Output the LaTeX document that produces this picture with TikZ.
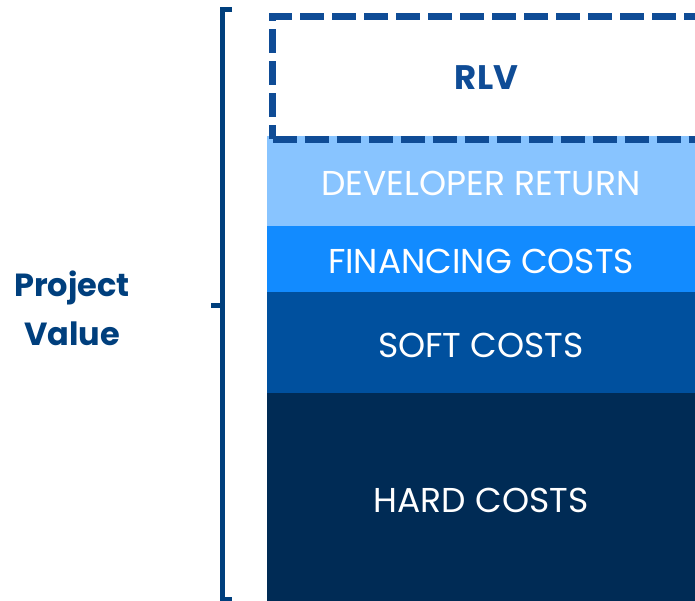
\documentclass[tikz,border=0pt]{standalone}
\usepackage{fontspec}
\setmainfont{Poppins}
\usepackage{xcolor}
\usetikzlibrary{positioning}

\definecolor{devblue}{HTML}{88C4FF}
\definecolor{finblue}{HTML}{128BFF}
\definecolor{softblue}{HTML}{00509E}
\definecolor{hardblue}{HTML}{002B55}
\definecolor{rlvblue}{HTML}{0F4C96}
\definecolor{bracketblue}{HTML}{003F7D}

\tikzset{
  layer/.style={rectangle, fill=#1, text=white, inner sep=0pt, outer sep=0pt,
    minimum width=428pt, text height=29pt, text depth=0pt,
    font=\fontsize{34.5}{36}\selectfont},
}

\begin{document}
\begin{tikzpicture}[x=1pt, y=-1pt, node distance=0pt]
\useasboundingbox (0,0) rectangle (695,601);
\node (devret) [layer=devblue, minimum height=90pt, anchor=north west] at (267,136) {DEVELOPER RETURN};
\node (fin) [layer=finblue, minimum height=66pt, below=of devret] {FINANCING COSTS};
\node (soft) [layer=softblue, minimum height=101pt, below=of fin] {SOFT COSTS};
\node (hard) [layer=hardblue, minimum height=210pt, below=of soft] {HARD COSTS};
\node (rlv) [rectangle, draw=rlvblue, line width=7pt, dash pattern=on 24pt off 8pt,
  minimum width=428pt, minimum height=123pt, anchor=north west, text=rlvblue,
  font=\bfseries\fontsize{34}{36}\selectfont] at (269,13) {RLV};

% bracket
\draw[bracketblue, line width=5pt] (232,10) -- (222,10) -- (222,599) -- (232,599);
\draw[bracketblue, line width=5pt] (222,305) -- (211,305);
\node (value) [text=bracketblue, align=center, font=\bfseries\fontsize{32}{49}\selectfont] at (72,308) {Project\\Value};
\end{tikzpicture}
\end{document}
